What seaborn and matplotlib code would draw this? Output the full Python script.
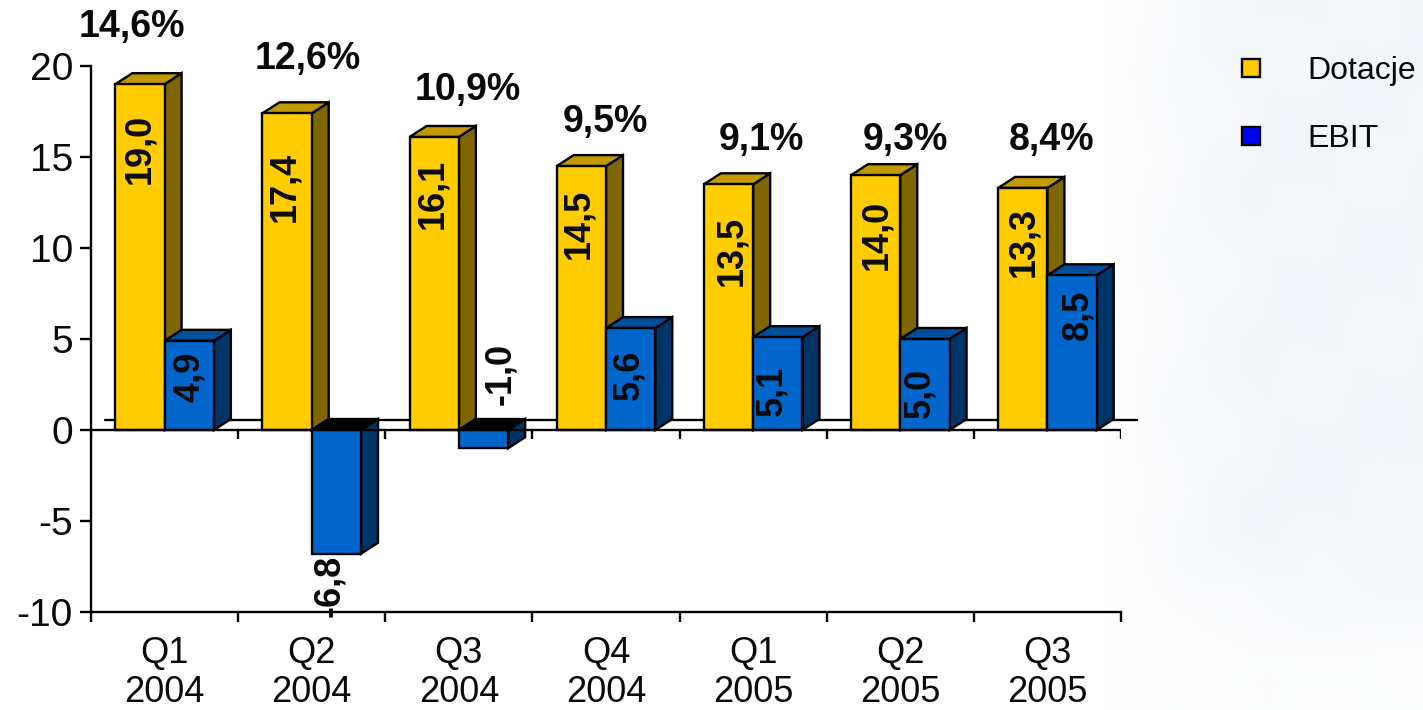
import numpy as np
import pandas as pd
import matplotlib
matplotlib.use("Agg")
import matplotlib.pyplot as plt
from matplotlib.lines import Line2D
from matplotlib.patches import Polygon
import seaborn as sns

# ---- data ----
quarters = ["Q1\n2004", "Q2\n2004", "Q3\n2004", "Q4\n2004", "Q1\n2005", "Q2\n2005", "Q3\n2005"]
dotacje = [19.0, 17.4, 16.1, 14.5, 13.5, 14.0, 13.3]
ebit = [4.9, -6.8, -1.0, 5.6, 5.1, 5.0, 8.5]
margin_labels = ["14,6%", "12,6%", "10,9%", "9,5%", "9,1%", "9,3%", "8,4%"]
series_names = ["Dotacje", "EBIT"]

# ---- label nudges in pixels (layout, relative to bar end, + is up) ----
dot_nudge = [(0, -65), (-2, -74), (-1, -57), (-3, -58), (3, -67), (1, -60), (1, -54)]
ebit_nudge = [(0, -36), (-7, -32), (17, 74), (-2, -47), (-6, -54), (-5, -54), (6, -40)]
margin_nudge = [(-33, 57), (-4, 54), (9, 47), (-1, 44), (8, 44), (5, 35), (4, 48)]

W, H = 1423, 710
L, R, T, B = 91, 1121, 66, 612
DX, DY = 17, 11  # 3-D depth in pixels
LW = 1.7

sns.set_theme(style="white")
plt.rcParams["font.family"] = ["Liberation Sans", "DejaVu Sans"]
plt.rcParams["axes.unicode_minus"] = False

fig = plt.figure(figsize=(W / 100, H / 100), dpi=100, facecolor="white")

# faint decorative background texture
bg = fig.add_axes([0, 0, 1, 1], zorder=-1)
yy, xx = np.mgrid[0:H, 0:W]
fade = np.clip((xx - 1100) / 170, 0, 1) * np.clip((690 - yy) / 160, 0.2, 1)
streak = 0.82 + 0.11 * np.sin((xx + 1.4 * yy) / 38) + 0.07 * np.sin((xx - 0.7 * yy) / 17)
amount = np.clip(fade * streak, 0, 1)[..., None]
tint = np.array([0.945, 0.958, 0.975])
bg.imshow(1 - amount * (1 - tint), aspect="auto", interpolation="bilinear")
bg.axis("off")

ax = fig.add_axes([L / W, 1 - B / H, (R - L) / W, (B - T) / H], zorder=1)
ax.patch.set_alpha(0)

df = pd.DataFrame({
    "kw": quarters * 2,
    "wartosc": dotacje + ebit,
    "seria": [series_names[0]] * 7 + [series_names[1]] * 7,
})
sns.barplot(data=df, x="kw", y="wartosc", hue="seria", order=quarters,
            hue_order=series_names, palette=["#FFCC00", "#0066CC"],
            width=0.67, gap=0, saturation=1, edgecolor="black", linewidth=LW,
            legend=False, ax=ax)
ax.set_xlim(-0.5, 6.5)
ax.set_ylim(-10, 20)
ax.set_xlabel("")
ax.set_ylabel("")

px_x = 7 / (R - L)
px_y = 30 / (B - T)
dx, dy = DX * px_x, DY * px_y

styles = {0: ("#806600", "#C29A00", 3), 1: ("#003366", "#004D99", 5)}
bars = list(ax.patches)
for i, bar in enumerate(bars):
    s = i // 7
    side_c, top_c, z = styles[s]
    bar.set_zorder(z)
    x0, x1 = bar.get_x(), bar.get_x() + bar.get_width()
    v = bar.get_y() + bar.get_height()
    if v >= 0:
        side = [(x1, 0), (x1 + dx, dy), (x1 + dx, v + dy), (x1, v)]
        top = [(x0, v), (x0 + dx, v + dy), (x1 + dx, v + dy), (x1, v)]
        tc = top_c
    else:
        side = [(x1, v), (x1 + dx, v + dy), (x1 + dx, dy), (x1, 0)]
        top = [(x0, 0), (x0 + dx, dy), (x1 + dx, dy), (x1, 0)]
        tc = "black"
    ax.add_patch(Polygon(side, closed=True, fc=side_c, ec="black", lw=LW, zorder=z - 1, clip_on=False))
    ax.add_patch(Polygon(top, closed=True, fc=tc, ec="black", lw=LW, zorder=z - 1, clip_on=False))

# lines and ticks
for sp in ["top", "right"]:
    ax.spines[sp].set_visible(False)
for sp in ["left", "bottom"]:
    ax.spines[sp].set_color("black")
    ax.spines[sp].set_linewidth(LW)
ax.set_yticks(np.arange(-10, 21, 5))
ax.tick_params(axis="y", length=8, width=LW, color="black", labelsize=28, pad=5, left=True, labelcolor="#0A0A0A")
ax.set_xticks(np.arange(7))
ax.set_xticklabels(quarters, linespacing=1.15)
ax.set_xticks(np.arange(-0.5, 7), minor=True)
ax.tick_params(axis="x", which="major", length=0, labelsize=26, pad=17, labelcolor="#0A0A0A")
ax.tick_params(axis="x", which="minor", length=7, width=LW, color="black", bottom=True)
ax.axhline(0, color="black", lw=LW, zorder=6)
ax.plot([-0.5 + 14 * px_x, 6.5 + 16 * px_x], [dy * 0.9, dy * 0.9],
        color="black", lw=LW, zorder=0.5, clip_on=False)
ax.vlines(np.arange(-0.5, 7), -9 * px_y, 0, color="black", lw=LW, zorder=6)


def label(x, y, nudge, text, rot, size):
    ax.annotate(text, xy=(x, y), xycoords="data", xytext=nudge, textcoords="offset pixels",
                ha="center", va="center", rotation=rot, rotation_mode="anchor" if rot else "default",
                fontsize=size, fontweight="bold", color="#0A0A0A", zorder=8, annotation_clip=False)


for i in range(7):
    b = bars[i]
    label(b.get_x() + b.get_width() / 2, dotacje[i], dot_nudge[i], f"{dotacje[i]:.1f}".replace(".", ","), 90, 26)
    b = bars[i + 7]
    label(b.get_x() + b.get_width() / 2, ebit[i], ebit_nudge[i], f"{ebit[i]:.1f}".replace(".", ","), 90, 26)
    label(i, dotacje[i], margin_nudge[i], margin_labels[i], 0, 27)

handles = [
    Line2D([], [], ls="", marker="s", ms=13, mfc=c, mec="black", mew=LW, label=n)
    for c, n in zip(["#FFCC00", "#0000FF"], series_names)
]
fig.legend(handles=handles, loc="upper left", bbox_to_anchor=(1235 / W, 1 - 56 / H),
           bbox_transform=fig.transFigure, frameon=False, fontsize=23, labelspacing=1.18,
           handlelength=1, handletextpad=1.28, borderpad=0, borderaxespad=0, labelcolor="#0A0A0A")

fig.savefig("out.png", dpi=100)
